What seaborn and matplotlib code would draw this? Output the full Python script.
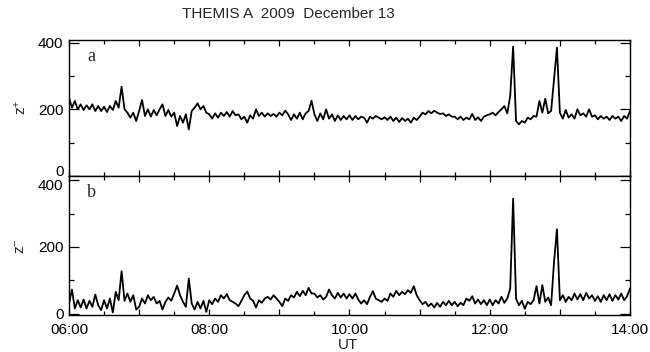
import numpy as np
import pandas as pd
import matplotlib
matplotlib.use("Agg")
import matplotlib.pyplot as plt
import matplotlib.dates as mdates
from matplotlib.ticker import FuncFormatter, MultipleLocator
from matplotlib.transforms import ScaledTranslation
import seaborn as sns

# ---------------- data (2.5-minute samples) ----------------
start_time = "2009-12-13 06:00"
end_time = "2009-12-13 14:00"
sample_step = "150s"

z_plus = [
    235, 205, 225, 200, 215, 198, 212, 200, 215, 195, 210, 195,   # 06:00
    208, 192, 210, 198, 225, 205, 268, 200, 190, 175, 190, 165,   # 06:30
    195, 228, 180, 200, 178, 198, 182, 200, 215, 180, 198, 178,   # 07:00
    190, 150, 180, 160, 185, 140, 195, 205, 218, 200, 210, 190,   # 07:30
    185, 172, 188, 175, 190, 180, 192, 178, 195, 182, 185, 170,   # 08:00
    178, 160, 182, 172, 200, 180, 190, 178, 188, 180, 186, 178,   # 08:30
    190, 182, 196, 185, 168, 185, 172, 190, 170, 188, 195, 226,   # 09:00
    185, 165, 188, 170, 200, 172, 185, 165, 182, 168, 180, 170,   # 09:30
    182, 168, 180, 170, 178, 175, 160, 178, 172, 180, 175, 170,   # 10:00
    176, 168, 178, 165, 175, 162, 174, 165, 172, 160, 175, 168,   # 10:30
    178, 190, 185, 195, 188, 196, 190, 186, 188, 180, 185, 178,   # 11:00
    178, 170, 178, 168, 175, 170, 186, 168, 176, 165, 178, 182,   # 11:30
    185, 190, 182, 192, 200, 210, 188, 240, 388, 165, 155, 165,   # 12:00
    160, 175, 170, 180, 178, 225, 190, 232, 188, 195, 290, 385,   # 12:30
    190, 172, 198, 175, 185, 172, 200, 182, 188, 178, 200, 178,   # 13:00
    182, 170, 180, 172, 178, 168, 180, 172, 178, 165, 180, 172,   # 13:30
    195,                                                          # 14:00
]

z_minus = [
    30, 72, 15, 40, 18, 42, 15, 38, 20, 57, 25, 10,               # 06:00
    40, 15, 45, 3, 65, 40, 127, 38, 60, 35, 55, 12,               # 06:30
    20, 45, 30, 55, 40, 50, 30, 38, 12, 35, 48, 38,               # 07:00
    60, 84, 55, 35, 20, 105, 30, 12, 35, 15, 38, 5,               # 07:30
    40, 28, 45, 35, 55, 45, 58, 40, 35, 30, 22, 38,               # 08:00
    55, 66, 45, 38, 18, 40, 32, 45, 50, 42, 55, 45,               # 08:30
    35, 22, 45, 38, 55, 48, 65, 52, 68, 55, 77, 60,               # 09:00
    60, 48, 55, 42, 50, 72, 55, 45, 62, 48, 60, 45,               # 09:30
    58, 45, 60, 42, 30, 40, 28, 50, 67, 45, 40, 35,               # 10:00
    45, 38, 60, 50, 68, 55, 65, 58, 70, 62, 82, 55,               # 10:30
    40, 28, 35, 22, 30, 18, 32, 20, 35, 25, 38, 25,               # 11:00
    35, 22, 32, 25, 45, 38, 52, 30, 42, 28, 40, 25,               # 11:30
    42, 25, 40, 30, 50, 32, 45, 75, 345, 45, 25, 38,              # 12:00
    14, 35, 28, 40, 82, 30, 85, 35, 48, 25, 155, 253,             # 12:30
    40, 55, 35, 50, 40, 60, 42, 58, 40, 62, 45, 55,               # 13:00
    38, 52, 35, 55, 40, 58, 38, 55, 42, 60, 40, 52,               # 13:30
    75,                                                           # 14:00
]

panel_letters = ["a", "b"]
y_labels = ["z$^{+}$", "z$^{-}$"]
y_ticks = [0, 200, 400]
title_text = "THEMIS A  2009  December 13"
x_label = "UT"

# ---------------- figure ----------------
sns.set_style("ticks")
plt.rcParams["font.family"] = ["Liberation Sans", "DejaVu Sans"]
plt.rcParams["mathtext.fontset"] = "custom"
plt.rcParams["mathtext.rm"] = "Liberation Sans"
plt.rcParams["mathtext.it"] = "Liberation Sans"
plt.rcParams["mathtext.default"] = "regular"

times = pd.date_range(start_time, end_time, freq=sample_step)
df = pd.DataFrame({"time": times, "zp": z_plus, "zm": z_minus})

W, H = 650, 352
fig = plt.figure(figsize=(W / 100, H / 100), dpi=100)

def fig_rect(x0, y0, x1, y1):
    return [x0 / W, 1 - y1 / H, (x1 - x0) / W, (y1 - y0) / H]

ax1 = fig.add_axes(fig_rect(69, 40, 630, 176))
ax2 = fig.add_axes(fig_rect(69, 176, 630, 314.5))

t0 = pd.Timestamp(start_time)
t1 = pd.Timestamp(end_time)

def hour_fmt(x, pos):
    d = mdates.num2date(x)
    total_min = int(round(d.hour * 60 + d.minute + d.second / 60))
    h, m = divmod(total_min, 60)
    if m == 0 and h % 2 == 0:
        return f"{h:02d}:00"
    return ""

for ax, col, letter, ylim in [
    (ax1, "zp", panel_letters[0], (0, 408)),
    (ax2, "zm", panel_letters[1], (-3, 413)),
]:
    sns.lineplot(data=df, x="time", y=col, ax=ax, color="black", linewidth=1.3,
                 estimator=None, legend=False)
    ax.set_xlim(t0, t1)
    ax.set_ylim(*ylim)
    ax.set_yticks(y_ticks)
    ax.yaxis.set_minor_locator(MultipleLocator(100))
    ax.xaxis.set_major_locator(mdates.HourLocator(interval=1))
    ax.xaxis.set_minor_locator(mdates.MinuteLocator(byminute=[30]))
    ax.xaxis.set_major_formatter(FuncFormatter(hour_fmt))
    ax.set_xlabel("")
    ax.set_ylabel("")
    for s in ax.spines.values():
        s.set_visible(True)
        s.set_linewidth(1.0)
        s.set_color("black")
    ax.tick_params(axis="both", which="both", direction="in", top=True, right=True,
                   color="black", width=0.9, labelsize=11, labelcolor="black")
    ax.tick_params(axis="y", which="major", length=7.5, pad=4)
    ax.tick_params(axis="y", which="minor", length=3.6)
    ax.tick_params(axis="x", which="major", length=4.5, pad=6)
    ax.tick_params(axis="x", which="minor", length=2.6)
    ax.text(0.032, 0.88, letter, transform=ax.transAxes, fontsize=13,
            family=["Liberation Serif", "DejaVu Serif"], ha="left", va="center")

ax1.tick_params(axis="x", labelbottom=False)

fig.text(21 / W, 1 - 107 / H, y_labels[0], rotation=90, ha="center", va="center", fontsize=11)
fig.text(21 / W, 1 - 246 / H, y_labels[1], rotation=90, ha="center", va="center", fontsize=11)
fig.text(288 / W, 1 - 14 / H, title_text, ha="center", va="center", fontsize=11)
fig.text(348 / W, 1 - 345 / H, x_label, ha="center", va="center", fontsize=11)

# nudge the stacked "0" / "400" labels apart, as in the reference
fig.canvas.draw()
for lab in ax1.yaxis.get_majorticklabels():
    if lab.get_text() == "0":
        lab.set_transform(lab.get_transform() + ScaledTranslation(0, 4 / 72, fig.dpi_scale_trans))
for lab in ax2.yaxis.get_majorticklabels():
    if lab.get_text() == "400":
        lab.set_transform(lab.get_transform() + ScaledTranslation(0, -3 / 72, fig.dpi_scale_trans))

fig.savefig("out.png", dpi=100)
